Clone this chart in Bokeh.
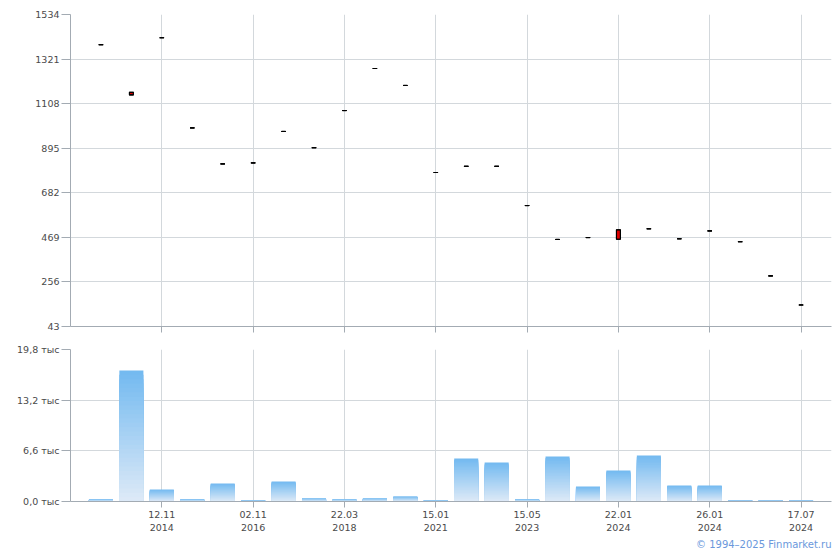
from bokeh.plotting import figure
from bokeh.layouts import column
from bokeh.models import FixedTicker, Title, ColumnDataSource
from bokeh.embed import file_html
from bokeh.resources import INLINE

# ---- data ----
tick_idx = [2, 5, 8, 11, 14, 17, 20, 23]
tick_labels = ["12.11\n2014", "02.11\n2016", "22.03\n2018", "15.01\n2021",
               "15.05\n2023", "22.01\n2024", "26.01\n2024", "17.07\n2024"]
open_ = [1390, 1162, 1423, 992, 820, 825, 975, 898, 1075, 1276, 1195, 779,
         808, 808, 621, 459, 468, 505, 510, 462, 500, 448, 285, 146]
close = [1390, 1150, 1423, 992, 820, 825, 975, 898, 1075, 1276, 1195, 779,
         808, 808, 621, 459, 468, 460, 510, 462, 500, 448, 285, 146]
high = [max(o, c) for o, c in zip(open_, close)]
low = [min(o, c) for o, c in zip(open_, close)]
volume = [260, 17070, 1560, 260, 2345, 130, 2600, 390, 260, 390, 650, 130,
          5600, 5080, 260, 5860, 1950, 4040, 6000, 2085, 2085, 130, 130, 130]
price_ticks = [43, 256, 469, 682, 895, 1108, 1321, 1534]
vol_ticks = [0, 6600, 13200, 19800]
vol_tick_labels = ["0,0 тыс", "6,6 тыс", "13,2 тыс", "19,8 тыс"]
copyright_text = "© 1994–2025 Finmarket.ru"

xs = list(range(len(open_)))

FONT = "DejaVu Sans"
FS = "9.5px"
LBL = "#4a4a4a"
GRID = "#d3d8dc"
AXIS = "#a3abb3"


def style(p, show_x_labels):
    p.outline_line_color = None
    p.grid.grid_line_color = GRID
    p.xgrid.ticker = FixedTicker(ticks=tick_idx)
    for ax in (p.xaxis[0], p.yaxis[0]):
        ax.axis_line_color = AXIS
        ax.major_tick_line_color = AXIS
        ax.minor_tick_line_color = None
        ax.major_label_text_font = FONT
        ax.major_label_text_font_size = FS
        ax.major_label_text_color = LBL
    p.yaxis.major_tick_out = 9
    p.yaxis.major_tick_in = 0
    p.yaxis.major_label_standoff = 2
    if show_x_labels:
        p.xaxis.ticker = FixedTicker(ticks=tick_idx)
        p.xaxis.major_tick_out = 6
        p.xaxis.major_tick_in = 0
        p.xaxis.major_label_standoff = 1
        p.xaxis.major_label_overrides = {i: t for i, t in zip(tick_idx, tick_labels)}
    else:
        # tick marks only, no labels
        p.xaxis.ticker = FixedTicker(ticks=[], minor_ticks=tick_idx)
        p.xaxis.minor_tick_line_color = AXIS
        p.xaxis.minor_tick_out = 6
        p.xaxis.minor_tick_in = 0


# ---- price panel ----
p1 = figure(width=840, height=338, x_range=(-1, 24), y_range=(43, 1534),
            output_backend="svg", toolbar_location=None,
            min_border_left=70, min_border_right=9, min_border_top=14,
            min_border_bottom=12)
style(p1, False)
p1.yaxis.ticker = FixedTicker(ticks=price_ticks)

src = ColumnDataSource(dict(
    x=xs, o=open_, c=close, h=high, l=low,
    top=[max(o, c) for o, c in zip(open_, close)],
    bot=[min(o, c) for o, c in zip(open_, close)],
    fill=["#e00000" if c < o else "#ffffff" for o, c in zip(open_, close)],
    x0=[x - 0.075 for x in xs], x1=[x + 0.075 for x in xs],
))
p1.segment(x0="x", x1="x", y0="l", y1="h", source=src, line_color="black", line_width=1)
p1.vbar(x="x", top="top", bottom="bot", width=0.13, source=src,
        fill_color="fill", line_color="black", line_width=1.2)
p1.segment(x0="x0", x1="x1", y0="c", y1="c", source=src, line_color="black", line_width=1.1)
p1.segment(x0="x0", x1="x1", y0="o", y1="o", source=src, line_color="black", line_width=1.1)

# ---- volume panel ----
p2 = figure(width=840, height=212, x_range=p1.x_range, y_range=(0, 19800),
            output_backend="svg", toolbar_location=None,
            min_border_left=70, min_border_right=9, min_border_top=11,
            min_border_bottom=49)
style(p2, True)
p2.yaxis.ticker = FixedTicker(ticks=vol_ticks)
p2.yaxis.major_label_overrides = {v: t for v, t in zip(vol_ticks, vol_tick_labels)}

# vertical gradient inside each bar, drawn as nested layers
top_rgb = (0x72, 0xb9, 0xf0)
bot_rgb = (0xde, 0xea, 0xf7)
N = 30
gx, gtop, gcol = [], [], []
for k in range(N):
    t = (k + 0.5) / N
    col = "#%02x%02x%02x" % tuple(int(round(a + (b - a) * t)) for a, b in zip(top_rgb, bot_rgb))
    for x, v in zip(xs, volume):
        gx.append(x)
        gtop.append(v * (1 - k / N))
        gcol.append(col)
p2.vbar(x=gx, top=gtop, bottom=0, width=0.79, fill_color=gcol, line_color=None)

p2.add_layout(Title(text=copyright_text, align="right", text_font=FONT,
                    text_font_size="10px", text_font_style="normal",
                    text_color="#6a98dc", standoff=2), "below")

layout = column(p1, p2, spacing=0)
open("out.html", "w").write(file_html(layout, INLINE))
